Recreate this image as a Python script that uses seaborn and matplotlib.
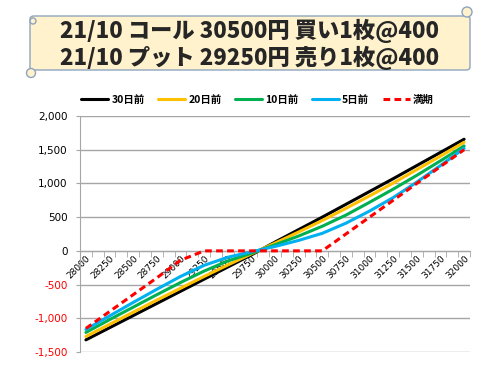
import numpy as np
import pandas as pd
import matplotlib
matplotlib.use('Agg')
import matplotlib.pyplot as plt
import matplotlib.patches as mpatches
from matplotlib.ticker import FuncFormatter
import seaborn as sns

# underlying price (yen)
prices = [28000, 28250, 28500, 28750, 29000, 29250, 29500, 29750, 30000,
          30250, 30500, 30750, 31000, 31250, 31500, 31750, 32000]

# position value
d30 = [-1320, -1140, -960, -780, -600, -420, -240, -60, 130,
       315, 500, 690, 880, 1070, 1265, 1460, 1655]
d20 = [-1270, -1090, -910, -730, -555, -380, -210, -45, 115,
       280, 450, 630, 815, 1005, 1205, 1405, 1610]
d10 = [-1210, -1020, -835, -650, -470, -300, -150, -35, 90,
       220, 365, 530, 720, 915, 1120, 1335, 1555]
d5 = [-1165, -965, -765, -570, -380, -215, -95, -15, 65,
      155, 260, 410, 590, 790, 1020, 1265, 1520]
expiry = [-1150, -900, -650, -400, -140, 0, 0, 0, 0,
          0, 0, 250, 500, 750, 1000, 1250, 1500]

names = ['30日前', '20日前', '10日前', '5日前', '満期']
colors = ['#000000', '#FFC000', '#00B050', '#00B0F0', '#FF0000']

title1 = '21/10 コール 30500円 買い1枚@400'
title2 = '21/10 プット 29250円 売り1枚@400'

sns.set_style('white')
plt.rcParams['font.family'] = ['Noto Sans CJK JP', 'DejaVu Sans']


def main():
    rows = []
    for name, vals in zip(names, [d30, d20, d10, d5, expiry]):
        for p, v in zip(prices, vals):
            rows.append({'price': p, 'value': v, 'series': name})
    df = pd.DataFrame(rows)

    fig = plt.figure(figsize=(5, 3.75), dpi=100)
    ax = fig.add_axes([0.16, 0.0613, 0.78, 0.6294])

    palette = dict(zip(names, colors))
    dashes = {n: '' for n in names}
    dashes['満期'] = (2.2, 1.4)
    sns.lineplot(data=df, x='price', y='value', hue='series', style='series',
                 palette=palette, dashes=dashes, linewidth=2.2, ax=ax,
                 legend=False, zorder=3)

    # y axis
    ax.set_ylim(-1500, 2000)
    ax.set_yticks(np.arange(-1500, 2001, 500))
    ax.yaxis.set_major_formatter(FuncFormatter(lambda v, p: f'{int(v):,}'))
    ax.grid(axis='y', color='#A6A6A6', linewidth=1)
    ax.grid(axis='x', visible=False)
    ax.tick_params(axis='y', left=True, length=3, color='#A6A6A6',
                   labelsize=7.5, pad=6)

    # x axis sits on zero
    ax.set_xlim(28000 - 62.5, 32000 + 62.5)
    ax.set_xticks(prices)
    ax.set_xticklabels([str(p) for p in prices])
    ax.set_xticks(np.arange(27937.5, 32063, 125), minor=True)
    ax.tick_params(axis='x', which='major', length=0, labelsize=6.5, pad=2)
    ax.tick_params(axis='x', which='minor', bottom=True, length=4,
                   color='#A6A6A6')
    ax.spines['bottom'].set_position(('data', 0))
    ax.spines['bottom'].set_color('#A6A6A6')
    ax.spines['left'].set_color('#A6A6A6')
    ax.spines['top'].set_visible(False)
    ax.spines['right'].set_visible(False)
    ax.set_xlabel('')
    ax.set_ylabel('')

    for lbl in ax.get_xticklabels():
        lbl.set_rotation(45)
        lbl.set_ha('right')
        lbl.set_rotation_mode('anchor')
        lbl.set_family('DejaVu Sans')
        lbl.set_color('black')
    for lbl, v in zip(ax.get_yticklabels(), ax.get_yticks()):
        lbl.set_family('DejaVu Sans')
        lbl.set_color('#FF0000' if v < 0 else 'black')

    # legend
    handles = [plt.Line2D([], [], color=c, lw=2.2,
                          ls=(0, (2.2, 1.4)) if n == '満期' else '-')
               for n, c in zip(names, colors)]
    leg = fig.legend(handles, names, loc='center', ncol=5, frameon=False,
                     bbox_to_anchor=(0.515, 1 - 100 / 375), fontsize=7.5,
                     handlelength=2.6, columnspacing=1.3, handletextpad=0.3)
    for t in leg.get_texts():
        t.set_color('black')
        t.set_fontweight('bold')

    # scroll banner title
    W, H = 500, 375

    def fx(x):
        return x / W

    def fy(y):
        return 1 - y / H

    cream = '#FFF2CC'
    edge = '#8EA4BE'
    body = mpatches.FancyBboxPatch((fx(30), fy(70)), fx(470) - fx(30),
                                   fy(16) - fy(70),
                                   boxstyle='round,pad=0,rounding_size=0.008',
                                   transform=fig.transFigure, facecolor=cream,
                                   edgecolor=edge, linewidth=1)
    fig.add_artist(body)
    for cx, cy, r in [(467, 12, 5), (31, 73, 4.5), (33, 21, 3)]:
        fig.add_artist(mpatches.Ellipse((fx(cx), fy(cy)), 2 * r / W,
                                        2 * r / H, transform=fig.transFigure,
                                        facecolor=cream, edgecolor=edge,
                                        linewidth=1))
    fig.text(0.5, fy(31), title1, ha='center', va='center', fontsize=16,
             fontweight='black')
    fig.text(0.5, fy(58), title2, ha='center', va='center', fontsize=16,
             fontweight='black')

    fig.savefig('out.png', dpi=100)
    plt.close(fig)


if __name__ == '__main__':
    main()
